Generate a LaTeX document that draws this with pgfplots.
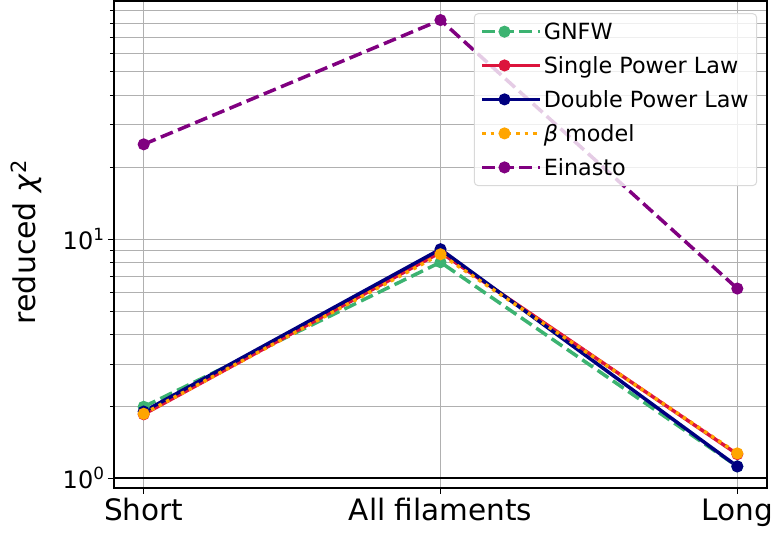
\documentclass[border=0pt]{standalone}
\usepackage{fontspec}
\setmainfont{DejaVu Sans}
\usepackage{pgfplots}
\pgfplotsset{compat=1.18}
\definecolor{cgnfw}{RGB}{60,179,113}
\definecolor{cspl}{RGB}{220,20,60}
\definecolor{cdpl}{RGB}{0,0,128}
\definecolor{cbeta}{RGB}{255,165,0}
\definecolor{cein}{RGB}{128,0,128}
\definecolor{cgrid}{RGB}{176,176,176}
\begin{document}
\begin{tikzpicture}
\begin{axis}[
  at={(0,0)}, anchor=south west,
  scale only axis, width=653pt, height=487pt,
  xmin=-0.1, xmax=2.1,
  ymode=log, ymin=0.91, ymax=99,
  xtick={0,1,2}, xticklabels={Short, All filaments, Long},
  ytick={1,10}, yticklabels={10\textsuperscript{0},10\textsuperscript{1}},
  minor ytick={2,3,4,5,6,7,8,9,20,30,40,50,60,70,80,90},
  xmajorgrids, ymajorgrids, yminorgrids,
  major grid style={cgrid, line width=1pt},
  minor grid style={cgrid, line width=1pt},
  tick align=outside, major tick length=6pt, minor tick length=4pt,
  xtick pos=left, ytick pos=left,
  tick style={black, line width=1pt},
  axis line style={black, line width=1.2pt},
  x tick label style={font=\fontsize{29.5}{34}\selectfont, yshift=-1pt},
  y tick label style={font=\fontsize{24}{28}\selectfont},
  ylabel={reduced \textit{χ}\textsuperscript{2}},
  ylabel style={font=\fontsize{30}{34}\selectfont, at={(axis description cs:-0.1103,0.505)}, anchor=south, inner sep=0pt},
  legend style={at={(0.985,0.975)}, anchor=north east, font=\fontsize{22.3}{26}\selectfont,
    draw=black!15, rounded corners=4pt, fill=white, fill opacity=0.8, text opacity=1, draw opacity=1,
    line width=1pt, row sep=11.5pt, inner xsep=6pt, inner ysep=7pt},
  legend cell align=left,
  legend image code/.code={\path (0pt,0pt) -- (58pt,0pt); \draw[mark repeat=2,mark phase=2,#1, fill opacity=1, draw opacity=1] plot coordinates {(0pt,0pt) (22.5pt,0pt) (45pt,0pt)};},
]
\addplot[black, line width=1.5pt, forget plot] coordinates {(-0.1,1) (2.1,1)};
\addplot[cgnfw, line width=3.5pt, dash pattern=on 13pt off 5.6pt, mark=*, mark size=4.2pt, mark options={solid}] coordinates {(0,1.99) (1,8.0) (2,1.12)};
\addlegendentry{GNFW}
\addplot[cspl, line width=3.5pt, mark=*, mark size=4.2pt, mark options={solid}] coordinates {(0,1.85) (1,8.8) (2,1.26)};
\addlegendentry{Single Power Law}
\addplot[cdpl, line width=3.5pt, mark=*, mark size=4.2pt, mark options={solid}] coordinates {(0,1.90) (1,9.07) (2,1.12)};
\addlegendentry{Double Power Law}
\addplot[cbeta, line width=3.5pt, dash pattern=on 3.5pt off 5pt, mark=*, mark size=4.2pt, mark options={solid}] coordinates {(0,1.86) (1,8.64) (2,1.27)};
\addlegendentry{\textit{β} model}
\addplot[cein, line width=3.5pt, dash pattern=on 13pt off 5.6pt, mark=*, mark size=4.2pt, mark options={solid}] coordinates {(0,24.9) (1,82.4) (2,6.21)};
\addlegendentry{Einasto}
\end{axis}
\pgfresetboundingbox
\path[use as bounding box] (-114pt,-50pt) rectangle (663pt,488pt);
\end{tikzpicture}
\end{document}
